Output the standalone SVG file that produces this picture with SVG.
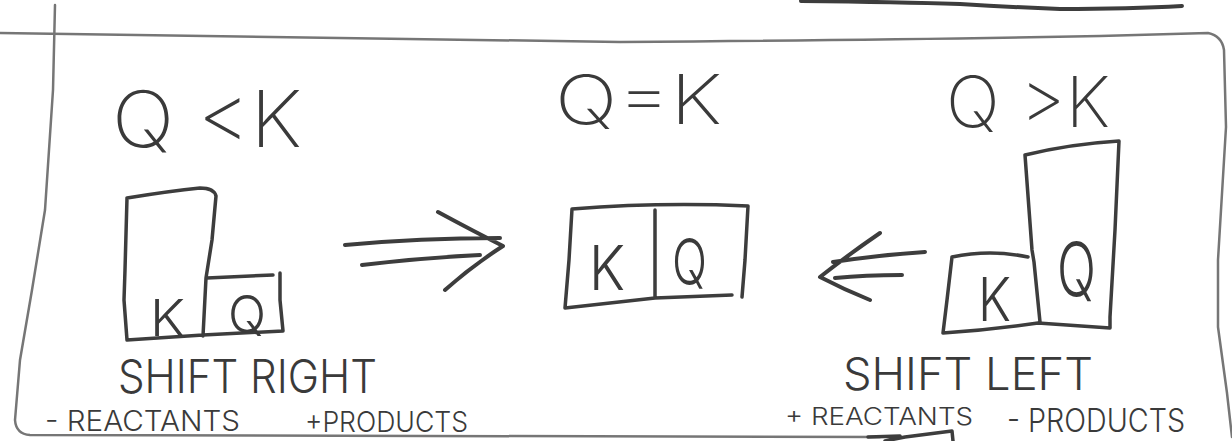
<svg xmlns="http://www.w3.org/2000/svg" width="1232" height="441" viewBox="0 0 1232 441">
<style>
.frame{fill:none;stroke:#767676;stroke-width:2.5;stroke-linecap:round;stroke-linejoin:round}
.ink{fill:none;stroke:#3d3d3d;stroke-width:3.5;stroke-linecap:round;stroke-linejoin:round}
.t{font-family:Inter,"Open Sans","Liberation Sans",sans-serif;font-weight:300;fill:#3a3a3a}
.big{font-weight:200}
</style>
<rect width="1232" height="441" fill="#ffffff"/>
<g id="frame">
<path class="frame" d="M0,33 Q300,36 620,42 Q900,40 1100,36 L1208,33 Q1222,36 1224,50 L1226,127 L1218,260 L1218,327 L1227,393 L1232,437"/>
<path class="frame" d="M55,5 L53,90 L45,210 L32,290 L20,360 L15,420 Q16,434 30,435 L880,437"/>
<path class="ink" d="M801,1 Q900,2 960,4 Q1010,7 1060,9 Q1130,9 1182,6" style="stroke-width:4"/>
<path class="ink" d="M868,437 L900,436 M885,441 L905,437 L952,431 L953,441"/>
</g>
<g id="node-q-less-k">
<text class="t big" x="112" y="147" font-size="78" textLength="190" lengthAdjust="spacingAndGlyphs">Q &lt;K</text>
<path class="ink" d="M127,198 Q170,191 200,188 Q214,188 216,196 L212,240 L206,278 L203,336 M127,198 L125,270 L124,300 L127,340 L203,335 L283,331 L280,300 L280,273 M207,278 L273,275"/>
<text class="t" x="150" y="336" font-size="50" textLength="35" lengthAdjust="spacingAndGlyphs">K</text>
<text class="t" x="228" y="333" font-size="52" textLength="38" lengthAdjust="spacingAndGlyphs">Q</text>
<text class="t" x="118" y="393" font-size="46" textLength="259" lengthAdjust="spacingAndGlyphs">SHIFT RIGHT</text>
<text class="t" x="45" y="431" font-size="28" textLength="195" lengthAdjust="spacingAndGlyphs">- REACTANTS</text>
<text class="t" x="305" y="432" font-size="29" textLength="163" lengthAdjust="spacingAndGlyphs">+PRODUCTS</text>
</g>
<g id="node-q-equal-k">
<text class="t big" x="555" y="124" font-size="68" textLength="167" lengthAdjust="spacingAndGlyphs">Q=K</text>
<path class="ink" d="M572,209 Q660,202 748,206 L745,260 L742,297 M572,209 L569,260 L565,308 L655,298 L732,295 M655,210 L655,298"/>
<text class="t" x="589" y="290" font-size="62" textLength="36" lengthAdjust="spacingAndGlyphs">K</text>
<text class="t" x="672" y="285" font-size="64" textLength="35" lengthAdjust="spacingAndGlyphs">Q</text>
</g>
<g id="node-q-greater-k">
<text class="t big" x="946" y="127" font-size="70" textLength="164" lengthAdjust="spacingAndGlyphs">Q &gt;K</text>
<path class="ink" d="M1025,155 Q1070,144 1119,141 L1115,230 L1110,317 L1110,328 M1025,155 L1032,250 L1034,262 L1040,322 M952,257 Q990,249 1028,257 M952,257 L947,300 L943,333 Q990,330 1038,323 L1110,328"/>
<text class="t" x="978" y="321" font-size="60" textLength="33" lengthAdjust="spacingAndGlyphs">K</text>
<text class="t" x="1057" y="296" font-size="74" textLength="39" lengthAdjust="spacingAndGlyphs">Q</text>
<text class="t" x="843" y="390" font-size="45" textLength="250" lengthAdjust="spacingAndGlyphs">SHIFT LEFT</text>
<text class="t" x="785" y="425" font-size="24" textLength="188" lengthAdjust="spacingAndGlyphs">+ REACTANTS</text>
<text class="t" x="1007" y="432" font-size="32" textLength="178" lengthAdjust="spacingAndGlyphs">- PRODUCTS</text>
</g>
<g id="connectors">
<path class="ink" d="M345,245 Q420,238 500,238 M362,265 Q420,258 480,255 M438,212 Q475,232 503,246 Q472,266 445,290" style="stroke-width:4"/>
<path class="ink" d="M925,252 Q880,255 833,262 M902,275 Q865,275 835,278 M880,233 Q848,255 820,277 Q845,290 870,300" style="stroke-width:4"/>
</g>
</svg>
